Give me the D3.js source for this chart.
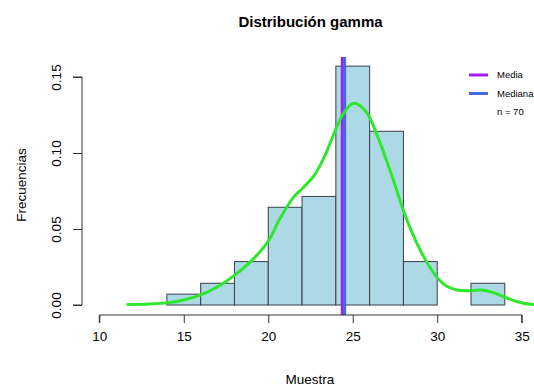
<!DOCTYPE html>
<html>
<head>
<meta charset="utf-8">
<script src="https://cdn.jsdelivr.net/npm/d3@7"></script>
<style>
  html, body { margin: 0; padding: 0; background: #fff; }
  text { font-family: "Liberation Sans", Arial, Helvetica, sans-serif; fill: #000; }
</style>
</head>
<body>
<script>
// Histogram bins (width 2) and counts of the sample
const binStarts = [14, 16, 18, 20, 22, 24, 26, 28, 30, 32];
const binWidth = 2;
const binCounts = [1, 2, 4, 9, 10, 22, 16, 4, 0, 2];
const sampleSize = 70;

// Central tendency
const meanValue = 24.38;
const medianValue = 24.52;

// Kernel density estimate of the sample
const densityX = [11.62, 13.0, 14.0, 15.0, 16.0, 17.0, 18.0, 19.0, 20.0, 20.7, 21.5, 22.0, 22.7, 23.3, 23.9, 24.4, 25.05, 25.8, 26.5, 27.0, 27.5, 28.0, 28.5, 29.0, 29.5, 30.0, 30.5, 31.15, 32.0, 32.6, 33.3, 33.9, 34.5, 35.1, 35.7, 36.5];
const densityY = [0.0004, 0.0007, 0.0014, 0.0033, 0.0066, 0.012, 0.0195, 0.029, 0.042, 0.057, 0.071, 0.0765, 0.085, 0.097, 0.113, 0.125, 0.1327, 0.127, 0.110, 0.095, 0.079, 0.062, 0.048, 0.036, 0.026, 0.018, 0.0128, 0.0099, 0.0094, 0.0099, 0.0082, 0.0056, 0.0030, 0.0012, 0.0004, 0.0];

// Axis ticks
const xTicks = [10, 15, 20, 25, 30, 35];
const yTicks = [0.00, 0.05, 0.10, 0.15];

// Legend entries
const legendLabels = ["Media", "Mediana"];
const legendColors = ["#a020f0", "#4169e1"];

const W = 534, H = 388;
const svg = d3.select("body").append("svg")
  .attr("width", W).attr("height", H)
  .style("display", "block");

svg.append("rect").attr("width", W).attr("height", H).attr("fill", "#fff");

const x = d3.scaleLinear().domain([10, 35]).range([99.3, 521.7]);
const y = d3.scaleLinear().domain([0, 0.15]).range([305, 77]);

// Plot region (R-style, extends beyond the data range)
const plotLeft = 82, plotTop = 57, plotBottom = 315, plotRight = 560;

svg.append("defs").append("clipPath").attr("id", "plotClip")
  .append("rect")
  .attr("x", plotLeft).attr("y", plotTop)
  .attr("width", plotRight - plotLeft).attr("height", plotBottom - plotTop);

const bins = binStarts.map((s, i) => ({ x0: s, x1: s + binWidth, d: binCounts[i] / (sampleSize * binWidth) }));

// Histogram bars
svg.append("g").selectAll("rect")
  .data(bins.filter(b => b.d > 0))
  .join("rect")
  .attr("x", b => x(b.x0))
  .attr("y", b => y(b.d))
  .attr("width", b => x(b.x1) - x(b.x0))
  .attr("height", b => y(0) - y(b.d))
  .attr("fill", "#add8e6")
  .attr("stroke", "#3a3f47")
  .attr("stroke-width", 1);

const plotG = svg.append("g").attr("clip-path", "url(#plotClip)");

// Mean and median lines
[[meanValue, legendColors[0]], [medianValue, legendColors[1]]].forEach(([v, c]) => {
  plotG.append("line")
    .attr("x1", x(v)).attr("x2", x(v))
    .attr("y1", plotTop).attr("y2", plotBottom)
    .attr("stroke", c).attr("stroke-width", 3);
});

// Density curve
const line = d3.line()
  .x((d, i) => x(densityX[i]))
  .y((d, i) => y(densityY[i]))
  .curve(d3.curveCatmullRom.alpha(0.5));

plotG.append("path")
  .datum(densityX)
  .attr("d", line)
  .attr("fill", "none")
  .attr("stroke", "#2ee82e")
  .attr("stroke-width", 3)
  .attr("stroke-linejoin", "round");

// X axis
const xAxis = svg.append("g")
  .attr("transform", `translate(0,${plotBottom})`)
  .call(d3.axisBottom(x).tickValues(xTicks).tickSize(8).tickPadding(8).tickFormat(d3.format("d")));
xAxis.selectAll("path, line").attr("stroke", "#333").attr("stroke-width", 1);
xAxis.select(".domain").attr("d", `M${x(10)},8V0H${x(35)}V8`);
xAxis.selectAll("text").attr("font-size", "13.5px").attr("fill", "#000")
  .style("font-family", "'Liberation Sans', Arial, sans-serif");

// Y axis
const yAxis = svg.append("g")
  .attr("transform", `translate(${plotLeft},0)`)
  .call(d3.axisLeft(y).tickValues(yTicks).tickSize(9).tickFormat(d3.format(".2f")));
yAxis.selectAll("path, line").attr("stroke", "#333").attr("stroke-width", 1);
yAxis.select(".domain").attr("d", `M-9,${y(0)}H0V${y(0.15)}H-9`);
yAxis.selectAll(".tick text")
  .attr("font-size", "13.5px").attr("fill", "#000")
  .style("font-family", "'Liberation Sans', Arial, sans-serif")
  .attr("x", null).attr("dy", null)
  .attr("text-anchor", "middle")
  .attr("transform", "translate(-21,0) rotate(-90)")
  .attr("y", 0)
  .attr("dy", "0");

// Titles
svg.append("text")
  .attr("x", 310.5).attr("y", 26.5)
  .attr("text-anchor", "middle")
  .attr("font-size", "15px").attr("font-weight", "bold")
  .text("Distribución gamma");

svg.append("text")
  .attr("x", 310).attr("y", 384)
  .attr("text-anchor", "middle")
  .attr("font-size", "13.5px")
  .text("Muestra");

svg.append("text")
  .attr("transform", "translate(25.5,185) rotate(-90)")
  .attr("text-anchor", "middle")
  .attr("font-size", "13.5px")
  .text("Frecuencias");

// Legend
const legend = svg.append("g");
legendLabels.forEach((lab, i) => {
  const ly = 75 + i * 18.5;
  legend.append("line")
    .attr("x1", 469).attr("x2", 488)
    .attr("y1", ly).attr("y2", ly)
    .attr("stroke", legendColors[i]).attr("stroke-width", 3);
  legend.append("text")
    .attr("x", 497).attr("y", ly + 3.4)
    .attr("font-size", "9.5px")
    .attr("fill", "#222")
    .text(lab);
});
legend.append("text")
  .attr("x", 497).attr("y", 75 + 2 * 18.5 + 3.4)
  .attr("font-size", "9.5px")
  .attr("fill", "#222")
  .text("n = " + sampleSize);
</script>
</body>
</html>
